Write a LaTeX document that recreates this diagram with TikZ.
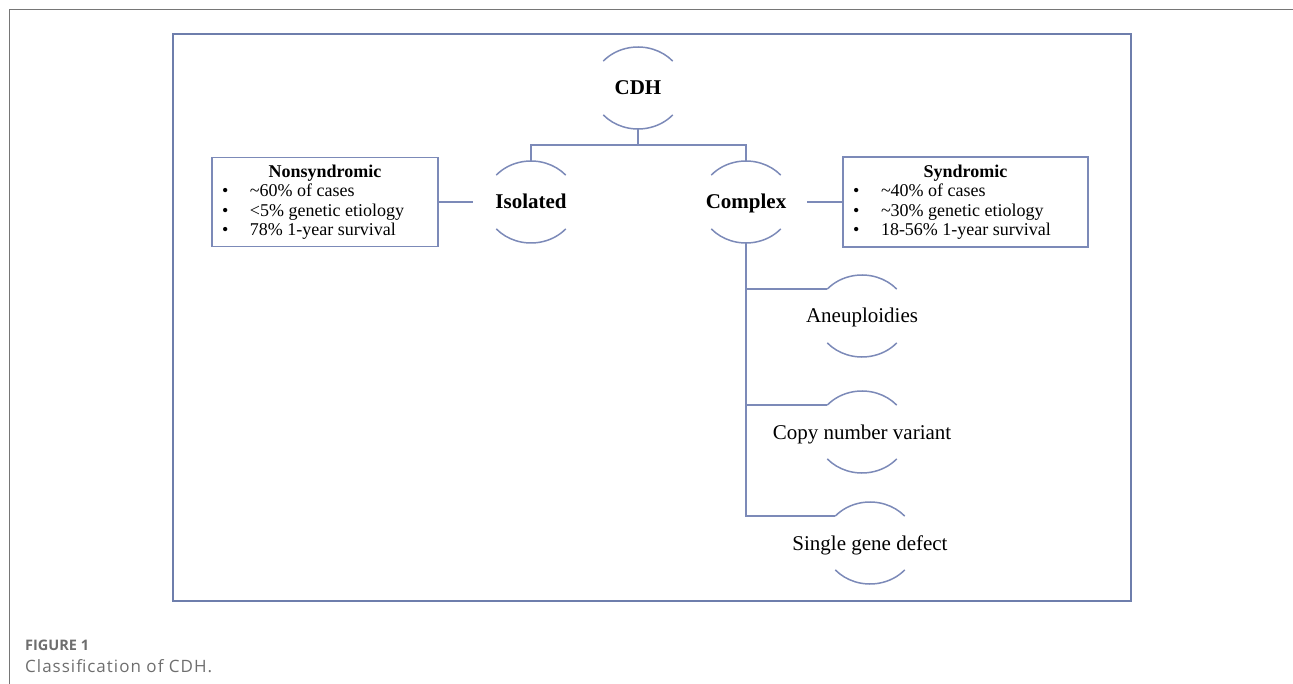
\documentclass[tikz,border=0pt]{standalone}
\usepackage{fontspec}
\setmainfont{Liberation Serif}
\newfontfamily\capfont[LetterSpace=6]{Open Sans}
\newfontfamily\capboldfont{Open Sans}
\usetikzlibrary{calc}
\definecolor{framegray}{RGB}{118,118,118}
\definecolor{frameblue}{RGB}{110,126,172}
\definecolor{lineblue}{RGB}{124,138,184}
\definecolor{capgray}{RGB}{110,110,110}
\tikzset{
  conn/.style={draw=lineblue, line width=1.5pt},
  lbl/.style={minimum width=92pt, minimum height=82pt, inner sep=0pt, text height=15pt, text depth=1pt, text=black, font=\fontsize{21}{24}\selectfont},
  boldlbl/.style={lbl, font=\fontsize{21}{24}\selectfont\bfseries},
  infobox/.style={draw=lineblue, line width=1.6pt, inner sep=0pt, text=black, font=\fontsize{18}{19.5}\selectfont},
  captext/.style={anchor=west, inner sep=0pt, text=capgray},
}
\newcommand\arcpair[1]{%
  \draw[conn] ($(#1.center)+(34.7,-26.9)$) arc[start angle=41,end angle=139,x radius=46pt,y radius=41pt];
  \draw[conn] ($(#1.center)+(-34.7,26.9)$) arc[start angle=221,end angle=319,x radius=46pt,y radius=41pt];}
\newcommand\bitem[1]{\hspace*{10pt}\makebox[28pt][l]{\textbullet}#1\par}
\begin{document}
\begin{tikzpicture}[x=1pt,y=-1pt]
\useasboundingbox (0,0) rectangle (1293,684);
% frames
\draw[framegray, line width=1.3pt] (9.5,684) -- (9.5,9.5) -- (1293,9.5);
\draw[frameblue, line width=2pt] (173,34) rectangle (1131,601);
% label nodes
\node[boldlbl] (cdh) at (638,88) {CDH};
\node[boldlbl] (iso) at (531,202) {Isolated};
\node[boldlbl] (cpx) at (746,202) {Complex};
\node[lbl] (aneu) at (862,316) {Aneuploidies};
\node[lbl] (cnv) at (862,432) {Copy number variant};
\node[lbl] (sgd) at (870,543) {Single gene defect};
\arcpair{cdh}
\arcpair{iso}
\arcpair{cpx}
\arcpair{aneu}
\arcpair{cnv}
\arcpair{sgd}
% boxes
\node[infobox, minimum width=226pt, minimum height=89pt] (nsyn) at (325,202) {%
  \begin{minipage}{226pt}\centering\textbf{Nonsyndromic}\par\raggedright
  \bitem{\textasciitilde60\% of cases}
  \bitem{\textless5\% genetic etiology}
  \bitem{78\% 1-year survival}
  \end{minipage}};
\node[infobox, minimum width=245pt, minimum height=90pt] (syn) at (965.5,202) {%
  \begin{minipage}{245pt}\centering\textbf{Syndromic}\par\raggedright
  \bitem{\textasciitilde40\% of cases}
  \bitem{\textasciitilde30\% genetic etiology}
  \bitem{18-56\% 1-year survival}
  \end{minipage}};
% connectors
\draw[conn, shorten >=12pt] (nsyn.east) -- (iso.west);
\draw[conn, shorten <=15pt] (cpx.east) -- (syn.west);
\coordinate (j) at (638,145);
\draw[conn] (cdh.south) -- (j);
\draw[conn] (iso.north) -- (iso.north |- j) -- (cpx.north |- j) -- (cpx.north);
\coordinate (aneuL) at ($(aneu.center)+(-34.7,-26.9)$);
\coordinate (cnvL) at ($(cnv.center)+(-34.7,-26.9)$);
\coordinate (sgdL) at ($(sgd.center)+(-34.7,-26.9)$);
\draw[conn] (cpx.south) -- (cpx.south |- sgdL) -- (sgdL);
\draw[conn] (cpx.south |- aneuL) -- (aneuL);
\draw[conn] (cpx.south |- cnvL) -- (cnvL);
% caption
\node[captext, font=\capboldfont\bfseries\fontsize{14.5}{16}\selectfont] (figno) at (25,645) {FIGURE 1};
\node[captext, font=\capfont\fontsize{17}{19}\selectfont] (cap) at (25,666) {Classification of CDH.};
\end{tikzpicture}
\end{document}
